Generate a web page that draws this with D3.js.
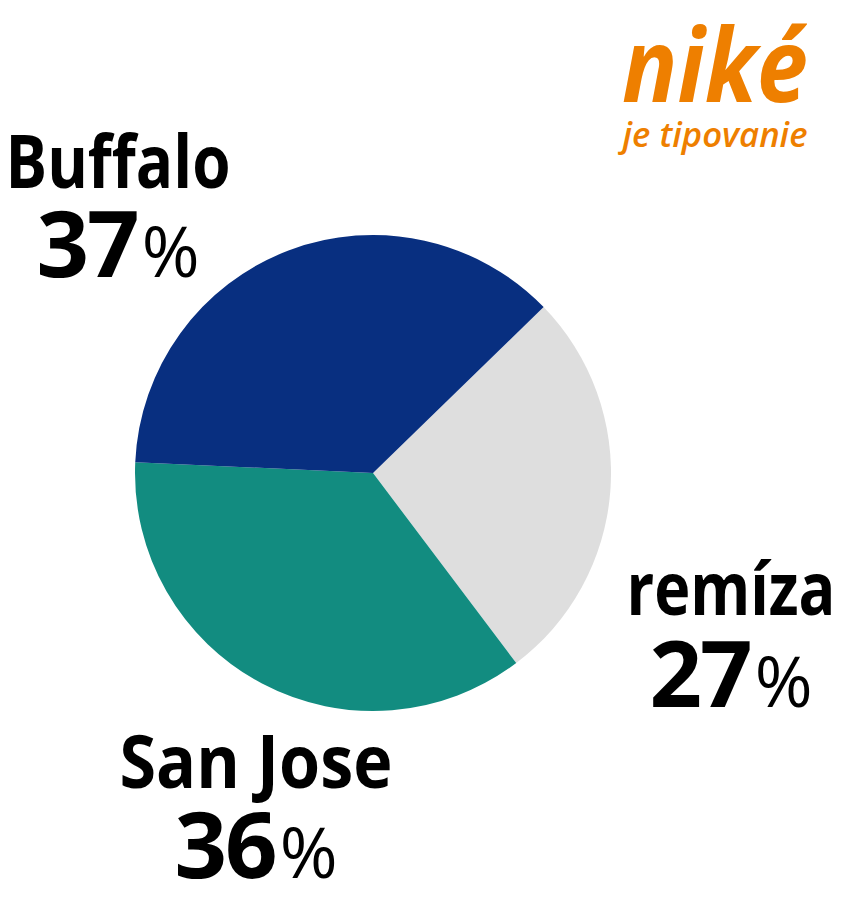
<!DOCTYPE html>
<html>
<head>
<meta charset="utf-8">
<script src="https://cdn.jsdelivr.net/npm/d3@7"></script>
<style>
html,body{margin:0;padding:0;background:#fff;}
svg{display:block;}
</style>
</head>
<body>
<svg id="chart" width="843" height="905"></svg>
<script>
// ---- data ----
const categories = ["remíza", "San Jose", "Buffalo"];
const values = [27, 36, 37];
const colors = ["#DEDEDE", "#128C80", "#082F80"];
const brandTitle = "niké";
const brandSubtitle = "je tipovanie";

// ---- layout ----
const svg = d3.select("#chart");
const cx = 373, cy = 473, radius = 238;
const startDeg = 45.8;

const pie = d3.pie().sort(null).value(d => d)
  .startAngle(startDeg * Math.PI / 180)
  .endAngle(startDeg * Math.PI / 180 + 2 * Math.PI);
const arc = d3.arc().innerRadius(0).outerRadius(radius);

const g = svg.append("g").attr("transform", `translate(${cx},${cy})`);
g.selectAll("path").data(pie(values)).join("path")
  .attr("d", arc)
  .attr("fill", (d, i) => colors[i]);

// labels
const labelLayout = [
  {x: 731, nameY: 615, nameLen: 209, pctY: 707},   // remíza
  {x: 256, nameY: 788, nameLen: 273, pctY: 878},   // San Jose
  {x: 118, nameY: 188, nameLen: 225, pctY: 277}    // Buffalo
];
const font = "'Open Sans', 'Noto Sans', sans-serif";
categories.forEach((c, i) => {
  const L = labelLayout[i];
  svg.append("text")
    .attr("x", L.x).attr("y", L.nameY)
    .attr("text-anchor", "middle")
    .attr("font-family", font).attr("font-weight", 700)
    .attr("font-size", 74)
    .attr("textLength", L.nameLen).attr("lengthAdjust", "spacingAndGlyphs")
    .attr("fill", "#000")
    .text(c);
  const t = svg.append("text")
    .attr("x", L.x).attr("y", L.pctY)
    .attr("text-anchor", "middle")
    .attr("font-family", font).attr("fill", "#000");
  t.append("tspan").attr("font-weight", 700).attr("font-size", 92).attr("letter-spacing", -2).text(values[i]);
  t.append("tspan").attr("font-weight", 500).attr("font-size", 70).attr("dx", 4).text("%");
});

// brand logo
svg.append("text")
  .attr("x", 715).attr("y", 102)
  .attr("text-anchor", "middle")
  .attr("font-family", font).attr("font-weight", 700).attr("font-style", "italic")
  .attr("font-size", 102)
  .attr("textLength", 186).attr("lengthAdjust", "spacingAndGlyphs")
  .attr("fill", "#EE7F00")
  .text(brandTitle);
svg.append("text")
  .attr("x", 715).attr("y", 147)
  .attr("text-anchor", "middle")
  .attr("font-family", font).attr("font-weight", 600).attr("font-style", "italic")
  .attr("font-size", 34)
  .attr("textLength", 185).attr("lengthAdjust", "spacingAndGlyphs")
  .attr("fill", "#EE7F00")
  .text(brandSubtitle);
</script>
</body>
</html>
